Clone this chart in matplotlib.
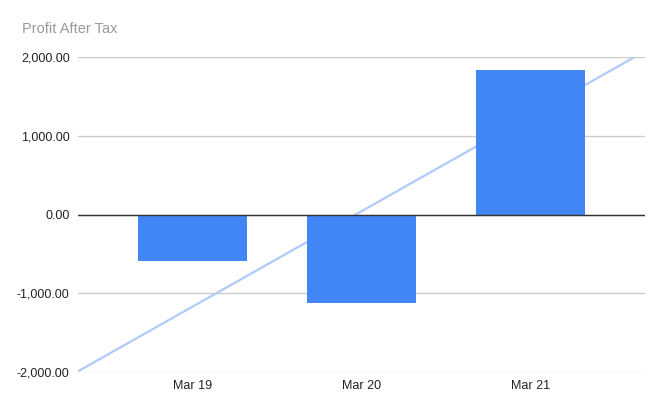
import matplotlib
matplotlib.use("Agg")
import matplotlib.pyplot as plt
import numpy as np
from matplotlib.ticker import FuncFormatter

categories = ["Mar 19", "Mar 20", "Mar 21"]
profit = [-588, -1127, 1839]
y_ticks = [-2000, -1000, 0, 1000, 2000]

plt.rcParams['font.family'] = ['Liberation Sans', 'DejaVu Sans']

fig = plt.figure(figsize=(6.65, 4.13), dpi=100)
ax = fig.add_axes([78/665, 41/413, (645-78)/665, (372-57)/413])

x = np.arange(len(categories))
ax.bar(x, profit, width=0.645, color="#4285F4", zorder=3)

# linear trendline
coef = np.polyfit(x, profit, 1)
xl = np.array([-0.675, 2.675])
ax.plot(xl, np.polyval(coef, xl), color="#aecbfa", lw=1.6, zorder=2, clip_on=True)

ax.set_xlim(-0.675, 2.675)
ax.set_ylim(-2000, 2000)
ax.set_yticks(y_ticks)
ax.yaxis.set_major_formatter(FuncFormatter(lambda v, p: f"{v:,.2f}"))
ax.set_xticks(x)
ax.set_xticklabels(categories)
ax.grid(axis='y', color="#cccccc", lw=1, zorder=0)
ax.set_axisbelow(True)
ax.axhline(0, color="#333333", lw=1, zorder=5)
for s in ax.spines.values():
    s.set_visible(False)
ax.tick_params(axis='both', length=0, labelsize=9, colors="#222222")
ax.tick_params(axis='y', pad=6)
ax.tick_params(axis='x', pad=6)

fig.text(22/665, 1 - 29/413, "Profit After Tax", color="#999999", fontsize=10.5, va='center', ha='left')

fig.savefig("out.png", dpi=100)
